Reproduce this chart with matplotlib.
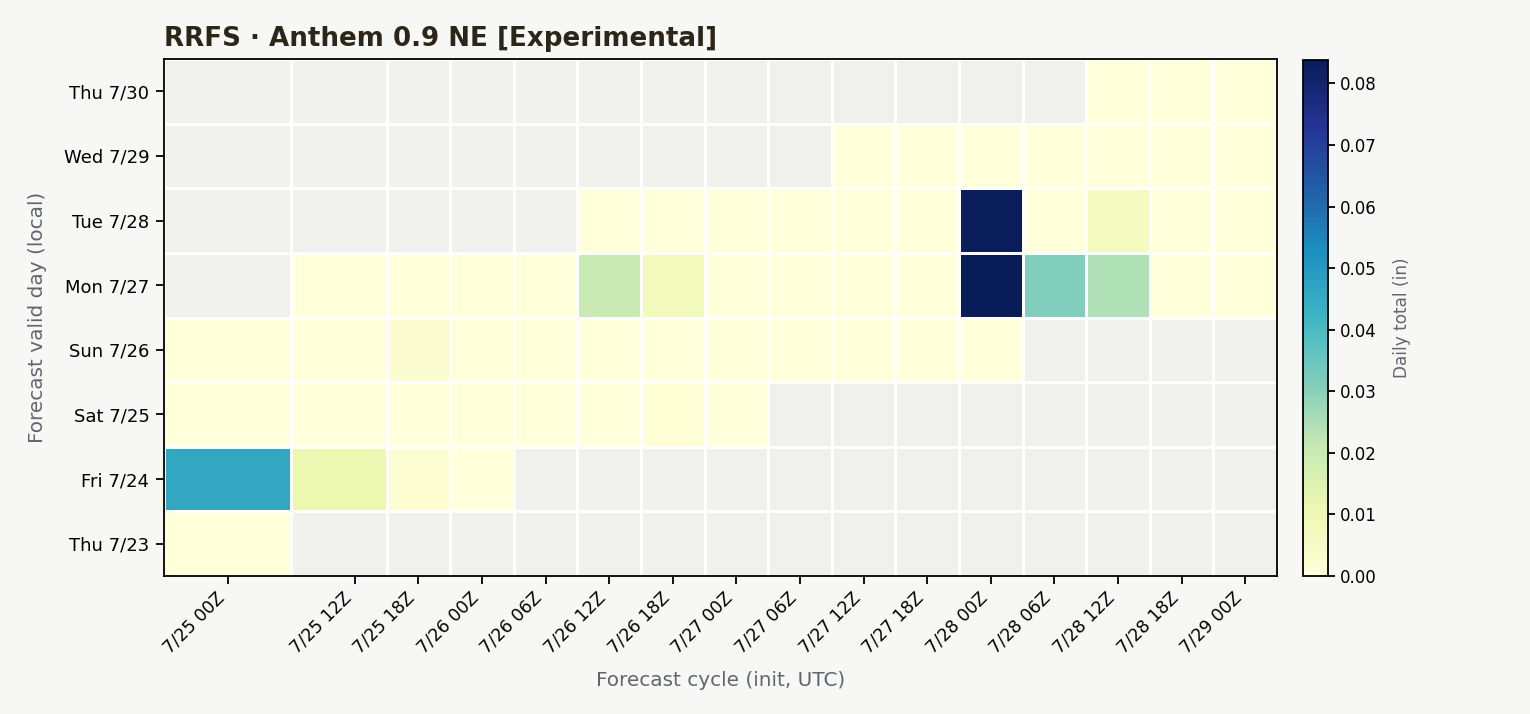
import numpy as np
import matplotlib.pyplot as plt

# forecast cycles (hours since 7/25 00Z) and their labels
cycle_hours = [0, 12, 18, 24, 30, 36, 42, 48, 54, 60, 66, 72, 78, 84, 90, 96]
cycle_labels = ["7/25 00Z", "7/25 12Z", "7/25 18Z", "7/26 00Z", "7/26 06Z",
                "7/26 12Z", "7/26 18Z", "7/27 00Z", "7/27 06Z", "7/27 12Z",
                "7/27 18Z", "7/28 00Z", "7/28 06Z", "7/28 12Z", "7/28 18Z",
                "7/29 00Z"]
day_labels = ["Thu 7/23", "Fri 7/24", "Sat 7/25", "Sun 7/26",
              "Mon 7/27", "Tue 7/28", "Wed 7/29", "Thu 7/30"]

n = np.nan
# daily totals (in), one row per valid day, one column per cycle
thu23 = [0.0, n, n, n, n, n, n, n, n, n, n, n, n, n, n, n]
fri24 = [0.046, 0.011, 0.002, 0.0, n, n, n, n, n, n, n, n, n, n, n, n]
sat25 = [0.0, 0.0, 0.0, 0.0, 0.0, 0.0, 0.0015, 0.0, n, n, n, n, n, n, n, n]
sun26 = [0.0, 0.0, 0.0025, 0.0, 0.0, 0.0, 0.0, 0.0, 0.0, 0.0, 0.0, 0.0, n, n, n, n]
mon27 = [n, 0.0, 0.0, 0.0, 0.0, 0.020, 0.008, 0.0, 0.0, 0.0, 0.0, 0.0838, 0.0314, 0.0245, 0.0, 0.0]
tue28 = [n, n, n, n, n, 0.0, 0.0, 0.0, 0.0, 0.0, 0.0, 0.083, 0.0, 0.0063, 0.0, 0.0]
wed29 = [n, n, n, n, n, n, n, n, n, 0.0, 0.0, 0.0, 0.0, 0.0, 0.0, 0.0]
thu30 = [n, n, n, n, n, n, n, n, n, n, n, n, n, 0.0, 0.0, 0.0]

grid = np.ma.masked_invalid(np.array([thu23, fri24, sat25, sun26,
                                      mon27, tue28, wed29, thu30]))

bg = "#f7f7f5"
cmap = plt.get_cmap("YlGnBu").copy()
cmap.set_bad("#f0f0ec")

fig = plt.figure(figsize=(15.3, 7.14), dpi=100, facecolor=bg)
ax = fig.add_axes([164/1530, 1-576/714, (1277-164)/1530, (576-59)/714])
cax = fig.add_axes([1303/1530, 1-576/714, 25/1530, (576-60)/714])

mesh = ax.pcolormesh(cycle_hours, np.arange(len(day_labels)), grid,
                     cmap=cmap, vmin=0, vmax=np.nanmax(grid),
                     shading="nearest", edgecolor="white", linewidth=2.0)

ax.set_xticks(cycle_hours)
ax.set_xticklabels(cycle_labels, rotation=45, ha="right", fontsize=12.5)
ax.set_yticks(np.arange(len(day_labels)))
ax.set_yticklabels(day_labels, fontsize=13)
ax.tick_params(length=5.5, width=1.3)
ax.tick_params(axis="y", pad=5)
for s in ax.spines.values():
    s.set_linewidth(1.3)

ax.set_xlabel("Forecast cycle (init, UTC)", fontsize=14.4, color="#5f6670", labelpad=10)
ax.set_ylabel("Forecast valid day (local)", fontsize=14.4, color="#5f6670", labelpad=12)
ax.set_title("RRFS · Anthem 0.9 NE [Experimental]", loc="left",
             fontsize=18.8, fontweight="bold", color="#2b2618", pad=9)

cb = fig.colorbar(mesh, cax=cax)
cb.set_ticks([0, 0.01, 0.02, 0.03, 0.04, 0.05, 0.06, 0.07, 0.08])
cb.ax.tick_params(labelsize=12, length=5, width=1.3)
cb.outline.set_linewidth(1.3)
cb.set_label("Daily total (in)", fontsize=12.2, color="#5f6670", labelpad=12)

fig.savefig("out.png", dpi=100, facecolor=bg)
